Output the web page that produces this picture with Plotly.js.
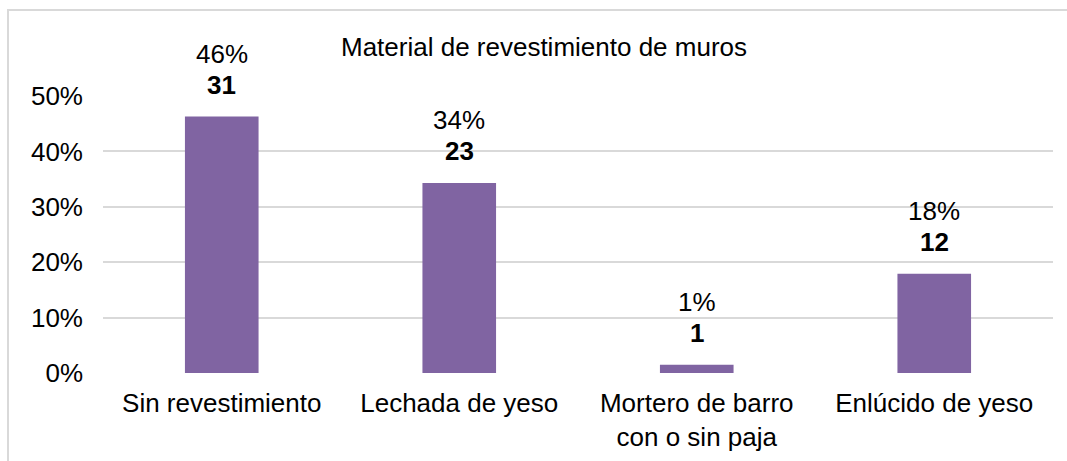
<!DOCTYPE html>
<html>
<head>
<meta charset="utf-8">
<script src="https://cdn.plot.ly/plotly-3.0.1.min.js"></script>
<style>
  html, body { margin: 0; padding: 0; background: #ffffff; }
  #wrap { position: relative; width: 1067px; height: 461px; overflow: hidden; }
  #frame { position: absolute; left: 7px; top: 9px; width: 1100px; height: 500px;
           border-left: 2px solid #d9d9d9; border-top: 2px solid #d9d9d9; box-sizing: border-box; }
  #chart { position: absolute; left: 0; top: 0; width: 1067px; height: 461px; }
</style>
</head>
<body>
<div id="wrap">
  <div id="frame"></div>
  <div id="chart"></div>
</div>
<script>
const categories = ["Sin revestimiento", "Lechada de yeso", "Mortero de barro<br>con o sin paja", "Enlúcido de yeso"];
const counts = [31, 23, 1, 12];
const percents = [0.463, 0.343, 0.015, 0.179];
const percentLabels = ["46%", "34%", "1%", "18%"];
const titleText = "Material de revestimiento de muros";

const FONT = "Liberation Sans, Arial, Helvetica, sans-serif";
const FS = 26;

const trace = {
  type: "bar",
  x: categories,
  y: percents,
  marker: { color: "#8064a2" },
  hoverinfo: "none"
};

const annotations = [];
categories.forEach((c, i) => {
  annotations.push({
    x: c, y: percents[i], xref: "x", yref: "y",
    text: percentLabels[i], showarrow: false,
    yanchor: "middle", yshift: 63,
    font: { family: FONT, size: FS, color: "#000000" }
  });
  annotations.push({
    x: c, y: percents[i], xref: "x", yref: "y",
    text: "<b>" + counts[i] + "</b>", showarrow: false,
    yanchor: "middle", yshift: 32,
    font: { family: FONT, size: FS, color: "#000000" }
  });
});

const layout = {
  width: 1067, height: 461,
  margin: { l: 103, r: 14, t: 96, b: 88, pad: 0 },
  paper_bgcolor: "rgba(0,0,0,0)",
  plot_bgcolor: "rgba(0,0,0,0)",
  showlegend: false,
  bargap: 0.69,
  title: {
    text: titleText,
    font: { family: FONT, size: FS, color: "#000000" },
    xref: "container", yref: "container",
    x: 544 / 1067, xanchor: "center",
    y: 1 - 47 / 461, yanchor: "middle"
  },
  xaxis: {
    type: "category",
    showgrid: false, zeroline: false, showline: false,
    ticks: "", ticklabelstandoff: 12,
    tickfont: { family: FONT, size: FS, color: "#000000" }
  },
  yaxis: {
    range: [0, 0.5],
    dtick: 0.1, tick0: 0,
    tickformat: ".0%",
    showgrid: true, gridcolor: "#d9d9d9", gridwidth: 2,
    zeroline: false, showline: false,
    ticks: "", ticklabelstandoff: 19,
    tickfont: { family: FONT, size: FS, color: "#000000" }
  },
  annotations: annotations
};

Plotly.newPlot("chart", [trace], layout, { displayModeBar: false, staticPlot: true });
</script>
</body>
</html>
